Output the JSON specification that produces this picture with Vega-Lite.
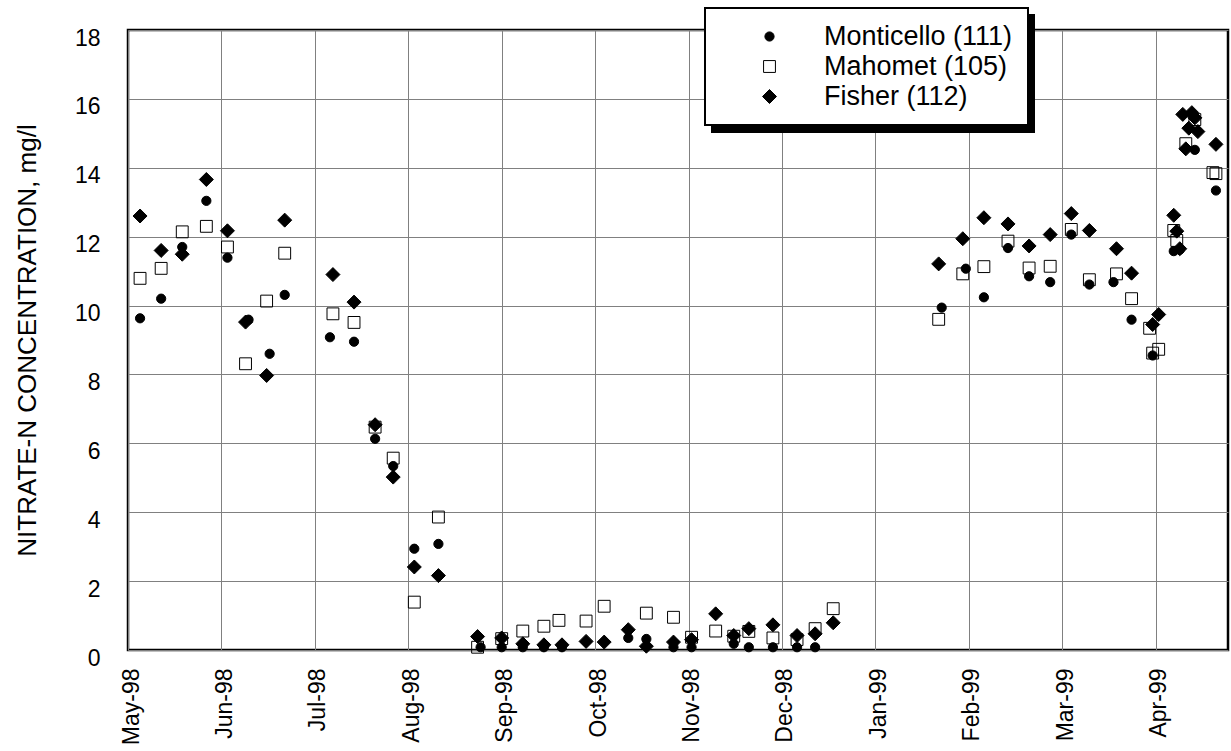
{
  "$schema": "https://vega.github.io/schema/vega-lite/v6.json",
  "width": 1100,
  "height": 620,
  "autosize": {"type": "none"},
  "padding": {"left": 128, "top": 30, "right": 3, "bottom": 101},
  "background": "white",
  "config": {
    "font": "Liberation Sans",
    "view": {"stroke": "black", "strokeWidth": 2.5},
    "axis": {
      "grid": true,
      "gridColor": "#808080",
      "gridWidth": 1,
      "domain": false,
      "ticks": false,
      "labelColor": "black",
      "labelFont": "Liberation Sans",
      "labelFontSize": 23,
      "titleFont": "Liberation Sans",
      "titleFontWeight": "normal",
      "titleColor": "black"
    },
    "legend": {
      "orient": "none",
      "legendX": 577,
      "legendY": -22,
      "fillColor": "white",
      "strokeColor": "black",
      "strokeWidth": 2,
      "padding": 15,
      "symbolOffset": 36,
      "labelOffset": 41,
      "labelLimit": 400,
      "labelFont": "Liberation Sans",
      "labelFontSize": 27,
      "labelColor": "black",
      "rowPadding": 2,
      "symbolOpacity": 1,
      "symbolStrokeColor": "black",
      "symbolStrokeWidth": 1
    }
  },
  "data": {
    "values": [
      {"date": "1998-05-05", "series": "Monticello (111)", "value": 9.63},
      {"date": "1998-05-12", "series": "Monticello (111)", "value": 10.2},
      {"date": "1998-05-19", "series": "Monticello (111)", "value": 11.7},
      {"date": "1998-05-27", "series": "Monticello (111)", "value": 13.04},
      {"date": "1998-06-03", "series": "Monticello (111)", "value": 11.39},
      {"date": "1998-06-10", "series": "Monticello (111)", "value": 9.59},
      {"date": "1998-06-17", "series": "Monticello (111)", "value": 8.6},
      {"date": "1998-06-22", "series": "Monticello (111)", "value": 10.31},
      {"date": "1998-07-07", "series": "Monticello (111)", "value": 9.08},
      {"date": "1998-07-15", "series": "Monticello (111)", "value": 8.95},
      {"date": "1998-07-22", "series": "Monticello (111)", "value": 6.13},
      {"date": "1998-07-28", "series": "Monticello (111)", "value": 5.34},
      {"date": "1998-08-04", "series": "Monticello (111)", "value": 2.94},
      {"date": "1998-08-12", "series": "Monticello (111)", "value": 3.08},
      {"date": "1998-08-26", "series": "Monticello (111)", "value": 0.08},
      {"date": "1998-09-02", "series": "Monticello (111)", "value": 0.08},
      {"date": "1998-09-09", "series": "Monticello (111)", "value": 0.08},
      {"date": "1998-09-16", "series": "Monticello (111)", "value": 0.08},
      {"date": "1998-09-22", "series": "Monticello (111)", "value": 0.08},
      {"date": "1998-10-14", "series": "Monticello (111)", "value": 0.35},
      {"date": "1998-10-20", "series": "Monticello (111)", "value": 0.32},
      {"date": "1998-10-29", "series": "Monticello (111)", "value": 0.08},
      {"date": "1998-11-04", "series": "Monticello (111)", "value": 0.08},
      {"date": "1998-11-18", "series": "Monticello (111)", "value": 0.18},
      {"date": "1998-11-23", "series": "Monticello (111)", "value": 0.08},
      {"date": "1998-12-01", "series": "Monticello (111)", "value": 0.08},
      {"date": "1998-12-09", "series": "Monticello (111)", "value": 0.08},
      {"date": "1998-12-15", "series": "Monticello (111)", "value": 0.08},
      {"date": "1999-01-26", "series": "Monticello (111)", "value": 9.94},
      {"date": "1999-02-03", "series": "Monticello (111)", "value": 11.07},
      {"date": "1999-02-09", "series": "Monticello (111)", "value": 10.24},
      {"date": "1999-02-17", "series": "Monticello (111)", "value": 11.67},
      {"date": "1999-02-24", "series": "Monticello (111)", "value": 10.85},
      {"date": "1999-03-03", "series": "Monticello (111)", "value": 10.68},
      {"date": "1999-03-10", "series": "Monticello (111)", "value": 12.06},
      {"date": "1999-03-16", "series": "Monticello (111)", "value": 10.61},
      {"date": "1999-03-24", "series": "Monticello (111)", "value": 10.68},
      {"date": "1999-03-30", "series": "Monticello (111)", "value": 9.59},
      {"date": "1999-04-06", "series": "Monticello (111)", "value": 8.55},
      {"date": "1999-04-13", "series": "Monticello (111)", "value": 11.58},
      {"date": "1999-04-15", "series": "Monticello (111)", "value": 11.62},
      {"date": "1999-04-20", "series": "Monticello (111)", "value": 14.52},
      {"date": "1999-04-27", "series": "Monticello (111)", "value": 13.34},

      {"date": "1998-05-05", "series": "Mahomet (105)", "value": 10.79},
      {"date": "1998-05-12", "series": "Mahomet (105)", "value": 11.08},
      {"date": "1998-05-19", "series": "Mahomet (105)", "value": 12.14},
      {"date": "1998-05-27", "series": "Mahomet (105)", "value": 12.3},
      {"date": "1998-06-03", "series": "Mahomet (105)", "value": 11.7},
      {"date": "1998-06-09", "series": "Mahomet (105)", "value": 8.31},
      {"date": "1998-06-16", "series": "Mahomet (105)", "value": 10.13},
      {"date": "1998-06-22", "series": "Mahomet (105)", "value": 11.52},
      {"date": "1998-07-08", "series": "Mahomet (105)", "value": 9.76},
      {"date": "1998-07-15", "series": "Mahomet (105)", "value": 9.51},
      {"date": "1998-07-22", "series": "Mahomet (105)", "value": 6.47},
      {"date": "1998-07-28", "series": "Mahomet (105)", "value": 5.57},
      {"date": "1998-08-04", "series": "Mahomet (105)", "value": 1.39},
      {"date": "1998-08-12", "series": "Mahomet (105)", "value": 3.86},
      {"date": "1998-08-25", "series": "Mahomet (105)", "value": 0.08},
      {"date": "1998-09-02", "series": "Mahomet (105)", "value": 0.33},
      {"date": "1998-09-09", "series": "Mahomet (105)", "value": 0.55},
      {"date": "1998-09-16", "series": "Mahomet (105)", "value": 0.69},
      {"date": "1998-09-21", "series": "Mahomet (105)", "value": 0.86},
      {"date": "1998-09-30", "series": "Mahomet (105)", "value": 0.84},
      {"date": "1998-10-06", "series": "Mahomet (105)", "value": 1.27},
      {"date": "1998-10-20", "series": "Mahomet (105)", "value": 1.07},
      {"date": "1998-10-29", "series": "Mahomet (105)", "value": 0.95},
      {"date": "1998-11-04", "series": "Mahomet (105)", "value": 0.37},
      {"date": "1998-11-12", "series": "Mahomet (105)", "value": 0.55},
      {"date": "1998-11-18", "series": "Mahomet (105)", "value": 0.4},
      {"date": "1998-11-23", "series": "Mahomet (105)", "value": 0.54},
      {"date": "1998-12-01", "series": "Mahomet (105)", "value": 0.35},
      {"date": "1998-12-09", "series": "Mahomet (105)", "value": 0.3},
      {"date": "1998-12-15", "series": "Mahomet (105)", "value": 0.62},
      {"date": "1998-12-21", "series": "Mahomet (105)", "value": 1.2},
      {"date": "1999-01-25", "series": "Mahomet (105)", "value": 9.6},
      {"date": "1999-02-02", "series": "Mahomet (105)", "value": 10.92},
      {"date": "1999-02-09", "series": "Mahomet (105)", "value": 11.13},
      {"date": "1999-02-17", "series": "Mahomet (105)", "value": 11.87},
      {"date": "1999-02-24", "series": "Mahomet (105)", "value": 11.09},
      {"date": "1999-03-03", "series": "Mahomet (105)", "value": 11.14},
      {"date": "1999-03-10", "series": "Mahomet (105)", "value": 12.21},
      {"date": "1999-03-16", "series": "Mahomet (105)", "value": 10.75},
      {"date": "1999-03-25", "series": "Mahomet (105)", "value": 10.92},
      {"date": "1999-03-30", "series": "Mahomet (105)", "value": 10.2},
      {"date": "1999-04-05", "series": "Mahomet (105)", "value": 9.34},
      {"date": "1999-04-06", "series": "Mahomet (105)", "value": 8.62},
      {"date": "1999-04-08", "series": "Mahomet (105)", "value": 8.73},
      {"date": "1999-04-13", "series": "Mahomet (105)", "value": 12.18},
      {"date": "1999-04-14", "series": "Mahomet (105)", "value": 11.89},
      {"date": "1999-04-17", "series": "Mahomet (105)", "value": 14.7},
      {"date": "1999-04-20", "series": "Mahomet (105)", "value": 15.4},
      {"date": "1999-04-26", "series": "Mahomet (105)", "value": 13.86},
      {"date": "1999-04-27", "series": "Mahomet (105)", "value": 13.83},

      {"date": "1998-05-05", "series": "Fisher (112)", "value": 12.6},
      {"date": "1998-05-12", "series": "Fisher (112)", "value": 11.6},
      {"date": "1998-05-19", "series": "Fisher (112)", "value": 11.49},
      {"date": "1998-05-27", "series": "Fisher (112)", "value": 13.66},
      {"date": "1998-06-03", "series": "Fisher (112)", "value": 12.17},
      {"date": "1998-06-09", "series": "Fisher (112)", "value": 9.52},
      {"date": "1998-06-16", "series": "Fisher (112)", "value": 7.97},
      {"date": "1998-06-22", "series": "Fisher (112)", "value": 12.48},
      {"date": "1998-07-08", "series": "Fisher (112)", "value": 10.9},
      {"date": "1998-07-15", "series": "Fisher (112)", "value": 10.1},
      {"date": "1998-07-22", "series": "Fisher (112)", "value": 6.54},
      {"date": "1998-07-28", "series": "Fisher (112)", "value": 5.02},
      {"date": "1998-08-04", "series": "Fisher (112)", "value": 2.41},
      {"date": "1998-08-12", "series": "Fisher (112)", "value": 2.16},
      {"date": "1998-08-25", "series": "Fisher (112)", "value": 0.39},
      {"date": "1998-09-02", "series": "Fisher (112)", "value": 0.35},
      {"date": "1998-09-09", "series": "Fisher (112)", "value": 0.18},
      {"date": "1998-09-16", "series": "Fisher (112)", "value": 0.15},
      {"date": "1998-09-22", "series": "Fisher (112)", "value": 0.15},
      {"date": "1998-09-30", "series": "Fisher (112)", "value": 0.25},
      {"date": "1998-10-06", "series": "Fisher (112)", "value": 0.23},
      {"date": "1998-10-14", "series": "Fisher (112)", "value": 0.59},
      {"date": "1998-10-20", "series": "Fisher (112)", "value": 0.11},
      {"date": "1998-10-29", "series": "Fisher (112)", "value": 0.23},
      {"date": "1998-11-04", "series": "Fisher (112)", "value": 0.3},
      {"date": "1998-11-12", "series": "Fisher (112)", "value": 1.05},
      {"date": "1998-11-18", "series": "Fisher (112)", "value": 0.42},
      {"date": "1998-11-23", "series": "Fisher (112)", "value": 0.62},
      {"date": "1998-12-01", "series": "Fisher (112)", "value": 0.73},
      {"date": "1998-12-09", "series": "Fisher (112)", "value": 0.42},
      {"date": "1998-12-15", "series": "Fisher (112)", "value": 0.47},
      {"date": "1998-12-21", "series": "Fisher (112)", "value": 0.79},
      {"date": "1999-01-25", "series": "Fisher (112)", "value": 11.21},
      {"date": "1999-02-02", "series": "Fisher (112)", "value": 11.94},
      {"date": "1999-02-09", "series": "Fisher (112)", "value": 12.55},
      {"date": "1999-02-17", "series": "Fisher (112)", "value": 12.37},
      {"date": "1999-02-24", "series": "Fisher (112)", "value": 11.73},
      {"date": "1999-03-03", "series": "Fisher (112)", "value": 12.06},
      {"date": "1999-03-10", "series": "Fisher (112)", "value": 12.67},
      {"date": "1999-03-16", "series": "Fisher (112)", "value": 12.18},
      {"date": "1999-03-25", "series": "Fisher (112)", "value": 11.65},
      {"date": "1999-03-30", "series": "Fisher (112)", "value": 10.94},
      {"date": "1999-04-06", "series": "Fisher (112)", "value": 9.45},
      {"date": "1999-04-08", "series": "Fisher (112)", "value": 9.74},
      {"date": "1999-04-13", "series": "Fisher (112)", "value": 12.62},
      {"date": "1999-04-14", "series": "Fisher (112)", "value": 12.16},
      {"date": "1999-04-15", "series": "Fisher (112)", "value": 11.65},
      {"date": "1999-04-16", "series": "Fisher (112)", "value": 15.55},
      {"date": "1999-04-17", "series": "Fisher (112)", "value": 14.55},
      {"date": "1999-04-18", "series": "Fisher (112)", "value": 15.15},
      {"date": "1999-04-19", "series": "Fisher (112)", "value": 15.6},
      {"date": "1999-04-20", "series": "Fisher (112)", "value": 15.45},
      {"date": "1999-04-21", "series": "Fisher (112)", "value": 15.05},
      {"date": "1999-04-27", "series": "Fisher (112)", "value": 14.68}
    ]
  },
  "mark": {"type": "point", "filled": true, "strokeWidth": 1},
  "encoding": {
    "x": {
      "field": "date",
      "type": "temporal",
      "scale": {
        "type": "utc",
        "domain": [
          {"year": 1998, "month": 5, "date": 1, "utc": true},
          {"year": 1999, "month": 5, "date": 1, "utc": true}
        ],
        "nice": false
      },
      "axis": {
        "title": null,
        "format": "%b-%y",
        "labelAngle": -90,
        "labelAlign": "right",
        "labelBaseline": "middle",
        "labelPadding": 18,
        "labelOffset": 3,
        "labelOverlap": false,
        "values": [
          {"year": 1998, "month": 5, "date": 1, "utc": true},
          {"year": 1998, "month": 6, "date": 1, "utc": true},
          {"year": 1998, "month": 7, "date": 2, "utc": true},
          {"year": 1998, "month": 8, "date": 2, "utc": true},
          {"year": 1998, "month": 9, "date": 2, "utc": true},
          {"year": 1998, "month": 10, "date": 3, "utc": true},
          {"year": 1998, "month": 11, "date": 3, "utc": true},
          {"year": 1998, "month": 12, "date": 4, "utc": true},
          {"year": 1999, "month": 1, "date": 4, "utc": true},
          {"year": 1999, "month": 2, "date": 4, "utc": true},
          {"year": 1999, "month": 3, "date": 7, "utc": true},
          {"year": 1999, "month": 4, "date": 7, "utc": true}
        ]
      }
    },
    "y": {
      "field": "value",
      "type": "quantitative",
      "scale": {"domain": [0, 18], "nice": false, "zero": true},
      "axis": {
        "title": "NITRATE-N CONCENTRATION, mg/l",
        "titleFontSize": 26,
        "titlePadding": 34,
        "values": [0, 2, 4, 6, 8, 10, 12, 14, 16, 18],
        "labelPadding": 28,
        "labelOffset": 8,
        "labelOverlap": false
      }
    },
    "shape": {
      "field": "series",
      "type": "nominal",
      "scale": {"domain": ["Monticello (111)", "Mahomet (105)", "Fisher (112)"], "range": ["circle", "square", "diamond"]},
      "legend": {"title": null, "zindex": 2}
    },
    "fill": {
      "field": "series",
      "type": "nominal",
      "scale": {"domain": ["Monticello (111)", "Mahomet (105)", "Fisher (112)"], "range": ["black", "transparent", "black"]},
      "legend": {"title": null, "zindex": 2}
    },
    "stroke": {
      "field": "series",
      "type": "nominal",
      "scale": {"domain": ["Monticello (111)", "Mahomet (105)", "Fisher (112)"], "range": ["black", "black", "black"]},
      "legend": {"title": null, "zindex": 2}
    },
    "size": {
      "field": "series",
      "type": "nominal",
      "scale": {"domain": ["Monticello (111)", "Mahomet (105)", "Fisher (112)"], "range": [85, 196, 200]},
      "legend": {"title": null, "zindex": 2}
    },
    "opacity": {
      "field": "series",
      "type": "nominal",
      "scale": {"domain": ["Fisher (112)", "Mahomet (105)", "Monticello (111)"], "range": [1, 1, 1]},
      "legend": {
        "title": null,
        "zindex": 1,
        "legendX": 584,
        "legendY": -15,
        "fillColor": "black",
        "strokeColor": "black",
        "labelExpr": "''",
        "labelOffset": 0,
        "symbolOffset": 265,
        "symbolFillColor": "black",
        "symbolStrokeColor": "black",
        "symbolType": "square",
        "symbolSize": 196
      }
    }
  }
}
